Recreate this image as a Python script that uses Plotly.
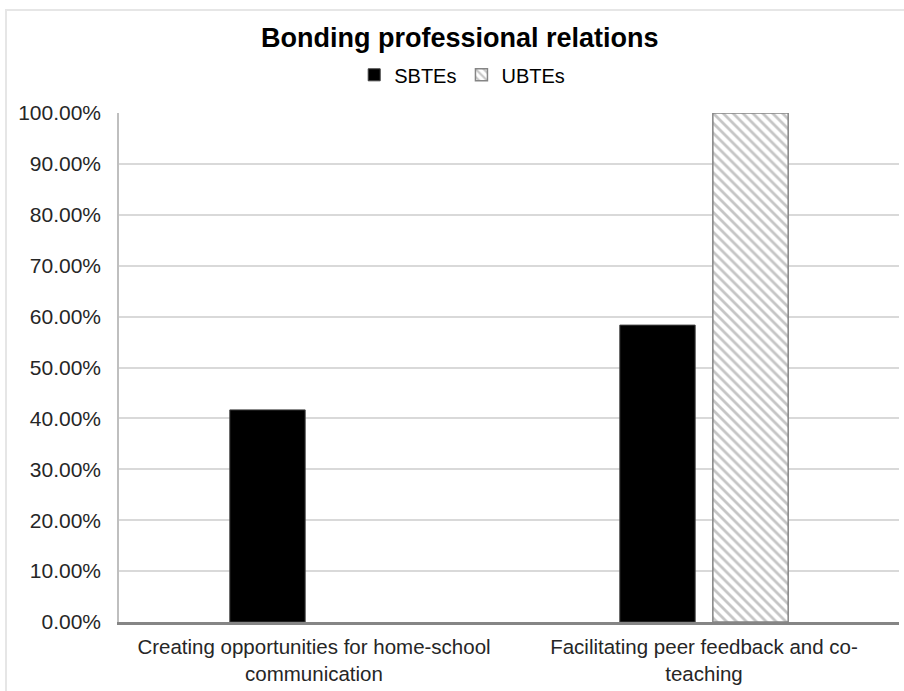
import plotly.graph_objects as go

categories = ["Creating opportunities for home-school<br>communication",
              "Facilitating peer feedback and co-<br>teaching"]
sbtes = [0.4167, 0.5833]
ubtes = [0.0, 1.0]
tick_vals = [0, 0.1, 0.2, 0.3, 0.4, 0.5, 0.6, 0.7, 0.8, 0.9, 1.0]

FONT = "Liberation Sans, Arial, sans-serif"
AXIS_GRAY = "#858585"
HATCH = dict(shape="\\", fgcolor="#8c8c8c", bgcolor="white", size=7, solidity=0.4)

fig = go.Figure()
fig.add_trace(go.Bar(
    x=categories, y=sbtes, name="SBTEs", offsetgroup="a", legendrank=1,
    marker=dict(color="black", line=dict(color="#404040", width=1)),
))
fig.add_trace(go.Bar(
    x=categories, y=ubtes, name="UBTEs", offsetgroup="b", showlegend=False,
    marker=dict(color="white",
                line=dict(color=AXIS_GRAY, width=[0 if v == 0 else 1.5 for v in ubtes]),
                pattern=HATCH),
))
# legend entry for UBTEs (no data drawn)
fig.add_trace(go.Bar(
    x=[categories[1]], y=[None], name="UBTEs", offsetgroup="b", legendrank=2,
    marker=dict(color="white", line=dict(color=AXIS_GRAY, width=1.5), pattern=HATCH),
    hoverinfo="skip",
))

fig.update_layout(
    width=904, height=691,
    margin=dict(l=119, r=5, t=113, b=69),
    paper_bgcolor="white", plot_bgcolor="white",
    barmode="group", bargap=0.523, bargroupgap=0.19,
    font=dict(family=FONT, color="#262626", size=20),
    title=dict(text="<b>Bonding professional relations</b>",
               x=0.437, xref="paper", xanchor="center",
               y=0.945, yref="container", yanchor="middle",
               font=dict(size=27, color="black", family=FONT)),
    legend=dict(orientation="h", x=0.44, xref="paper", xanchor="center",
                y=1.075, yanchor="middle", font=dict(size=20, color="black"),
                itemwidth=30, traceorder="normal"),
    showlegend=True,
)
fig.update_yaxes(
    range=[0, 1.0], tickvals=tick_vals, tickformat=".2%",
    showgrid=True, gridcolor="#d9d9d9", gridwidth=1.5,
    showline=True, linecolor="#bfbfbf", linewidth=1.5,
    ticks="", ticklabelstandoff=12, zeroline=False, automargin=False,
    tickfont=dict(size=21, color="#262626"),
)
fig.update_xaxes(
    showline=True, linecolor=AXIS_GRAY, linewidth=2.5, ticks="",
    ticklabelstandoff=5, automargin=False, layer="above traces",
    tickfont=dict(size=20.5, color="#262626"),
)
fig.add_shape(type="rect", xref="paper", yref="paper",
              x0=-113/780, x1=1.1, y0=-0.3, y1=1 + 103/509,
              line=dict(color="#e6e6e6", width=2), layer="below")

fig.write_html("out.html")
